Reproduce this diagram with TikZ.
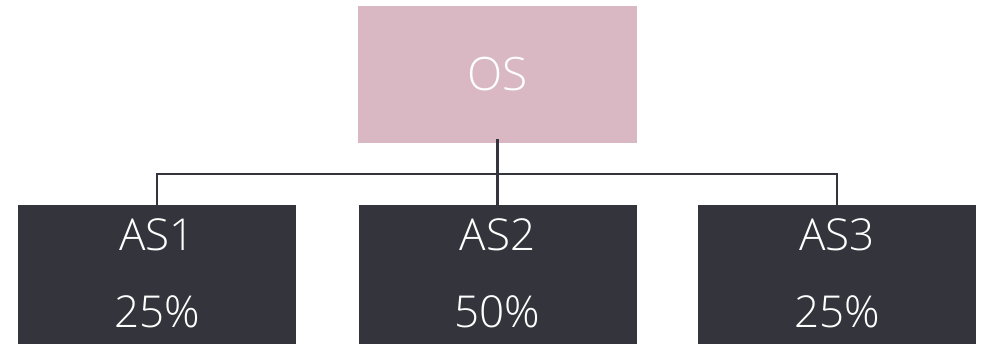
\documentclass[tikz,border=0pt]{standalone}
\usepackage{fontspec}
\setmainfont{Open Sans Light}
\definecolor{pinkbox}{HTML}{D9B8C4}
\definecolor{darkbox}{HTML}{34353C}
\begin{document}
\begin{tikzpicture}[x=1pt,y=-1pt,
  osbox/.style={fill=pinkbox,draw=none,minimum width=279pt,minimum height=137pt,inner sep=0pt},
  asbox/.style={fill=darkbox,draw=none,minimum width=278pt,minimum height=140pt,inner sep=0pt,anchor=north},
  lbl/.style={text=white,font=\fontsize{44}{44}\selectfont,anchor=base,inner sep=0pt},
  conn/.style={draw=darkbox,line width=2.5pt}]
\useasboundingbox (0,0) rectangle (985,343);
\node[osbox] (os) at (497.5,74.5) {};
\node[text=white,font=\fontsize{46}{46}\selectfont,inner sep=0pt] (ost) at (os.center) {OS};
\node[asbox] (a1) at (157,205) {};
\node[asbox] (a2) at (497.5,205) {};
\node[asbox] (a3) at (837,205) {};
\node[lbl] (a1t) at (157,250) {AS1};
\node[lbl] (a1p) at (157,327) {25\%};
\node[lbl] (a2t) at (497.5,250) {AS2};
\node[lbl] (a2p) at (497.5,327) {50\%};
\node[lbl] (a3t) at (837,250) {AS3};
\node[lbl] (a3p) at (837,327) {25\%};
\coordinate (j) at (497.5,174);
\draw[conn] ([yshift=4pt]os.south) -- ([yshift=-3pt]a2.north);
\draw[conn] (a1.north) -- (a1.north |- j) -- (a3.north |- j) -- (a3.north);
\end{tikzpicture}
\end{document}
